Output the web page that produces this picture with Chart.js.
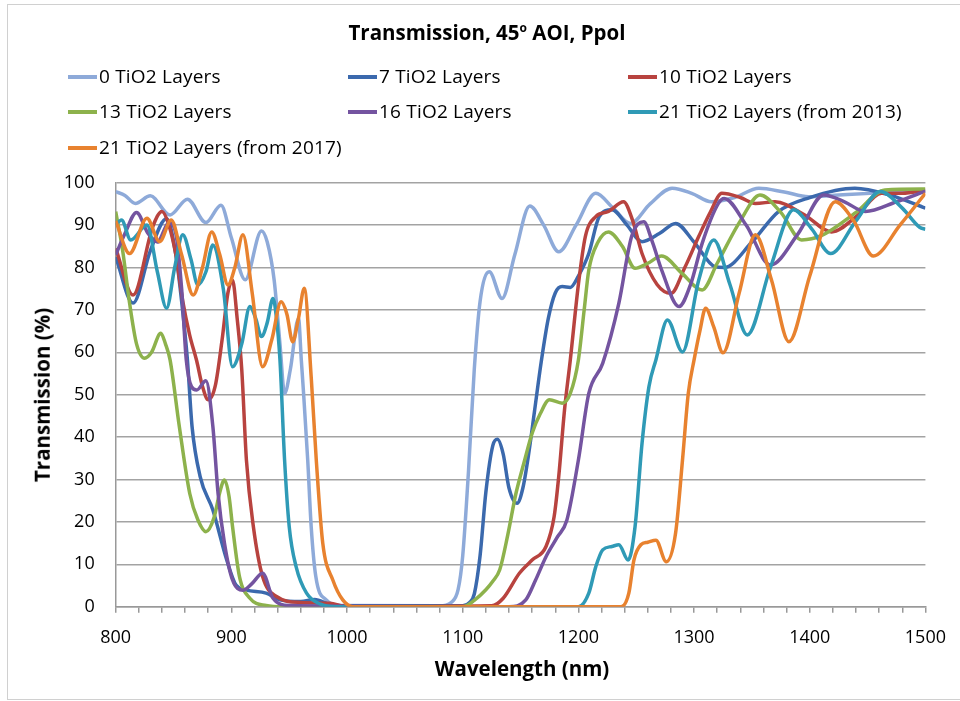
<!DOCTYPE html>
<html>
<head>
<meta charset="utf-8">
<script src="https://cdn.jsdelivr.net/npm/chart.js@4/dist/chart.umd.min.js"></script>
<style>
  body { margin: 0; background: #fff; font-family: "Open Sans", sans-serif; color: #000; }
  #wrap { position: relative; width: 960px; height: 701px; overflow: hidden; }
  #frame { position: absolute; left: 7px; top: 4px; width: 960px; height: 696px; border: 1px solid #d0d0d0; box-sizing: border-box; }
  canvas { position: absolute; left: 0; top: 0; }
  .txt { position: absolute; white-space: nowrap; line-height: 1; transform: translate(-50%, -50%); }
  #title { left: 487px; top: 32px; font-weight: bold; font-size: 20.5px; }
  #title sup { font-size: 12px; vertical-align: 8px; }
  #ytitle { left: 42px; top: 395px; font-weight: bold; font-size: 20.5px; transform: translate(-50%, -50%) rotate(-90deg); }
  #xtitle { left: 522px; top: 668px; font-weight: bold; font-size: 20.5px; }
  .leg { position: absolute; display: flex; align-items: center; font-size: 19px; letter-spacing: 0.2px; white-space: nowrap; line-height: 1; }
  .leg span.mk { display: inline-block; width: 29px; height: 4px; margin-right: 2px; }
</style>
</head>
<body>
<div id="wrap">
  <div id="frame"></div>
  <canvas id="chart" width="960" height="701"></canvas>
  <div id="title" class="txt">Transmission, 45<sup>o</sup> AOI, Ppol</div>
  <div id="ytitle" class="txt">Transmission (%)</div>
  <div id="xtitle" class="txt">Wavelength (nm)</div>
  <div id="legend"></div>
</div>
<script>
// series labels and colours
const names = ['0 TiO2 Layers', '7 TiO2 Layers', '10 TiO2 Layers', '13 TiO2 Layers',
  '16 TiO2 Layers', '21 TiO2 Layers (from 2013)', '21 TiO2 Layers (from 2017)'];
const colors = ['#8eaad9', '#3b69ad', '#b8433f', '#8db24c', '#7454a0', '#2f9ab6', '#e8822f'];

// wavelength (nm) / transmission (%) pairs, one pair of arrays per coating
const wl0 = [800, 808, 817, 830, 847, 862, 878, 891, 900, 912, 926, 931, 937, 942, 946, 951, 958, 960.5, 962.5, 966, 969, 973, 982, 994, 1080, 1090, 1096, 1100, 1105, 1110, 1115, 1123, 1134, 1145, 1158, 1170, 1183, 1198, 1215, 1230, 1245, 1262, 1281, 1298, 1315, 1335, 1356, 1378, 1399, 1425, 1460, 1500];
const t0 = [97.9, 97, 95.1, 96.9, 92.4, 96.1, 90.6, 94.7, 87, 77.1, 88.6, 86, 77, 62, 50.3, 56, 68, 58, 50, 34.6, 18.9, 7.1, 1.6, 0.3, 0.2, 1, 4, 12, 32, 56, 72, 79, 72.7, 83, 94.5, 90, 83.7, 90, 97.5, 94, 90.4, 95, 98.7, 97.5, 95.5, 96.5, 98.7, 97.8, 96.7, 97.1, 97.6, 98];

const wl1 = [800, 815, 830, 844, 852, 857, 862, 866, 873, 884, 896, 904, 913, 930, 942, 960, 972, 985, 995, 1100, 1106, 1110, 1115, 1120, 1126, 1130, 1135, 1140, 1147, 1152, 1157, 1162, 1168, 1174, 1180, 1186, 1193, 1200, 1209, 1218, 1229, 1242, 1255, 1270, 1284, 1300, 1318, 1326, 1350, 1373, 1400, 1439, 1470, 1500];
const t1 = [82.5, 71.6, 84, 91.5, 83, 72, 58.2, 42.5, 30.7, 22.8, 11, 5.1, 3.9, 3.2, 1.6, 1.2, 1.7, 0.5, 0.2, 0.2, 1, 3, 12, 27, 38, 39.5, 36, 28, 24.4, 28, 36, 46, 58, 68, 74, 75.5, 75.3, 78, 83.3, 92, 93.6, 90, 86.1, 88, 90.4, 86, 80.2, 80, 86, 93.2, 96.5, 98.7, 97, 94];

const wl2 = [800, 815, 832, 840, 846, 852, 858, 864, 870, 875, 880, 886, 892, 897, 901, 905, 909, 913, 919, 927, 939, 960, 985, 1000, 1125, 1135, 1149, 1160, 1172, 1179, 1183, 1188, 1193, 1200, 1206, 1215, 1226, 1239, 1247, 1255, 1268, 1280, 1292, 1304, 1314, 1324, 1340, 1353, 1370, 1395, 1419, 1440, 1462, 1480, 1500];
const t2 = [84.5, 73.5, 89.6, 93.2, 90, 83, 72, 64, 58, 52, 48.8, 52, 63, 74, 77, 68, 55.8, 34.6, 18.9, 7.1, 2.4, 1, 0.8, 0, 0.2, 2, 7.9, 11, 14.2, 21.2, 30.7, 46.4, 58.2, 76, 87.3, 92, 93.2, 95.5, 91, 83.3, 76, 73.9, 80, 87.3, 93, 97.5, 96.5, 95.1, 95.5, 92.5, 88.4, 92, 97.5, 97.5, 98.3];

const wl3 = [800, 806, 812, 818, 825, 831, 839, 843, 847, 855, 864, 871, 878, 885, 890, 894, 898, 901, 907, 916, 930, 945, 1100, 1110, 1120, 1126, 1132, 1139, 1146, 1153, 1160, 1167, 1175, 1186, 1193, 1200, 1205, 1209, 1217, 1226, 1238, 1249, 1260, 1272, 1290, 1307, 1320, 1340, 1357, 1375, 1393, 1410, 1440, 1465, 1500];
const t3 = [93.2, 84, 71.6, 62, 58.6, 60, 64.5, 62, 58.2, 42.5, 26.7, 20.5, 17.7, 21, 27, 29.9, 26, 18.9, 7.1, 2, 0.3, 0, 0, 1.5, 4, 6, 8.7, 17, 26.7, 34, 40.9, 45.5, 48.8, 48, 50.3, 58.2, 70, 79.4, 86, 88.4, 85, 79.8, 81, 82.7, 78.5, 74.7, 81, 91, 97.1, 93, 86.5, 87.5, 93, 98.3, 98.5];

const wl4 = [800, 808, 818, 828, 836, 846, 852, 857, 861, 865.5, 870, 878, 884, 888.5, 894, 901, 910, 918, 927, 936, 950, 1140, 1154.5, 1163, 1172, 1182, 1190, 1200, 1209, 1221, 1235, 1246, 1256.5, 1264, 1272, 1287, 1297, 1307, 1321, 1326, 1345, 1366, 1390, 1412, 1430, 1448, 1475, 1500];
const t4 = [83, 88, 93, 88, 86, 90.5, 88, 75, 58.2, 51.9, 51.1, 53.3, 42.5, 26.7, 15, 6.3, 3.9, 5.5, 7.9, 2, 0.3, 0, 1.6, 6.3, 11.8, 16.5, 20.4, 34.6, 50.3, 57.4, 71.6, 87.3, 90.8, 86, 79.4, 70.8, 76, 85.7, 95.1, 96.3, 90, 80.6, 88, 97.1, 95.5, 93.2, 95.5, 98];

const wl5 = [800, 805, 813, 827, 836, 844, 851, 858, 865, 871, 878, 884, 893, 901, 909, 916, 921, 926, 931, 936, 939, 942, 946, 950, 956, 965, 977, 990, 1200, 1209, 1215, 1221, 1229, 1235, 1243, 1249, 1255, 1261, 1267, 1277, 1290, 1304, 1317, 1331, 1346, 1366, 1386, 1402, 1418, 1440, 1461, 1480, 1495, 1500];
const t5 = [90, 91.2, 86.5, 90, 79, 70.4, 80, 87.7, 82, 75.9, 79, 85.3, 75, 56.6, 62, 70.8, 68, 63.7, 67, 72.7, 68, 58.2, 34.6, 18.9, 9.4, 3.2, 0.6, 0, 0, 3.2, 9.4, 13.4, 14.2, 14.6, 11, 18.9, 38.5, 51.9, 58.2, 67.6, 60.1, 77, 86.5, 76, 64.1, 80, 93.6, 89, 83.3, 91, 97.9, 94, 89.5, 89];

const wl6 = [800, 812, 827, 838, 848, 857, 867, 875, 883, 890, 897, 903, 910, 918, 927, 935, 943, 948, 953, 958, 963, 969, 973.4, 979, 987.7, 996.3, 1005, 1237, 1243.6, 1248, 1254, 1260, 1267, 1276, 1284, 1290, 1295, 1300, 1305, 1310, 1317, 1325, 1339, 1353, 1367, 1382, 1400, 1422, 1438, 1455, 1478, 1500];
const t6 = [91, 83.3, 91.6, 86.1, 91.2, 83, 73.5, 80, 88.4, 83, 75.9, 80, 87.7, 74, 56.6, 63, 71.9, 69, 62.5, 68, 75.1, 54.2, 34.6, 15, 6.3, 1.6, 0, 0, 3.2, 11, 14.6, 15.2, 15.7, 10.6, 17.3, 34.6, 50.3, 58.2, 65, 70.4, 66, 59.9, 74, 87.7, 77, 62.5, 78, 95.5, 91, 82.7, 90, 97.5];

const xs = [wl0, wl1, wl2, wl3, wl4, wl5, wl6];
const ys = [t0, t1, t2, t3, t4, t5, t6];

// legend: three columns, filled row by row
const legend = document.getElementById('legend');
const colX = [68, 348, 628];
const rowY = [75, 110, 146];
names.forEach((n, i) => {
  const d = document.createElement('div');
  d.className = 'leg';
  d.style.left = colX[i % 3] + 'px';
  d.style.top = (rowY[Math.floor(i / 3)] - 8) + 'px';
  d.innerHTML = '<span class="mk" style="background:' + colors[i] + '"></span>';
  d.appendChild(document.createTextNode(n));
  legend.appendChild(d);
});

const tickFont = { family: 'Open Sans', size: 18 };

new Chart(document.getElementById('chart'), {
  type: 'line',
  data: {
    datasets: names.map((n, i) => ({
      label: n,
      data: xs[i].map((x, k) => ({ x: x, y: ys[i][k] })),
      borderColor: colors[i],
      borderWidth: 3.5,
      pointRadius: 0,
      cubicInterpolationMode: 'monotone',
      fill: false,
      order: names.length - i
    }))
  },
  options: {
    responsive: false,
    animation: false,
    devicePixelRatio: 1,
    layout: { padding: { top: 182.7, right: 32.7, left: 0, bottom: 0 } },
    plugins: { legend: { display: false }, title: { display: false }, tooltip: { enabled: false } },
    scales: {
      x: {
        type: 'linear',
        min: 800, max: 1500,
        afterFit: s => { s.height = 94.3; },
        ticks: {
          stepSize: 20,
          autoSkip: false,
          maxRotation: 0,
          padding: 14,
          color: '#000',
          font: tickFont,
          callback: v => (v % 100 === 0 ? String(v) : '')
        },
        grid: { drawOnChartArea: false, drawTicks: true, tickLength: 6, tickColor: '#999', lineWidth: 1.5 },
        border: { color: '#999', width: 1.5 }
      },
      y: {
        min: 0, max: 100,
        afterFit: s => { s.width = 115.7; },
        ticks: { stepSize: 10, padding: 21, color: '#000', font: tickFont },
        grid: { color: '#a3a3a3', lineWidth: 1.5, drawTicks: false },
        border: { color: '#999', width: 1.5 }
      }
    }
  }
});
</script>
</body>
</html>
